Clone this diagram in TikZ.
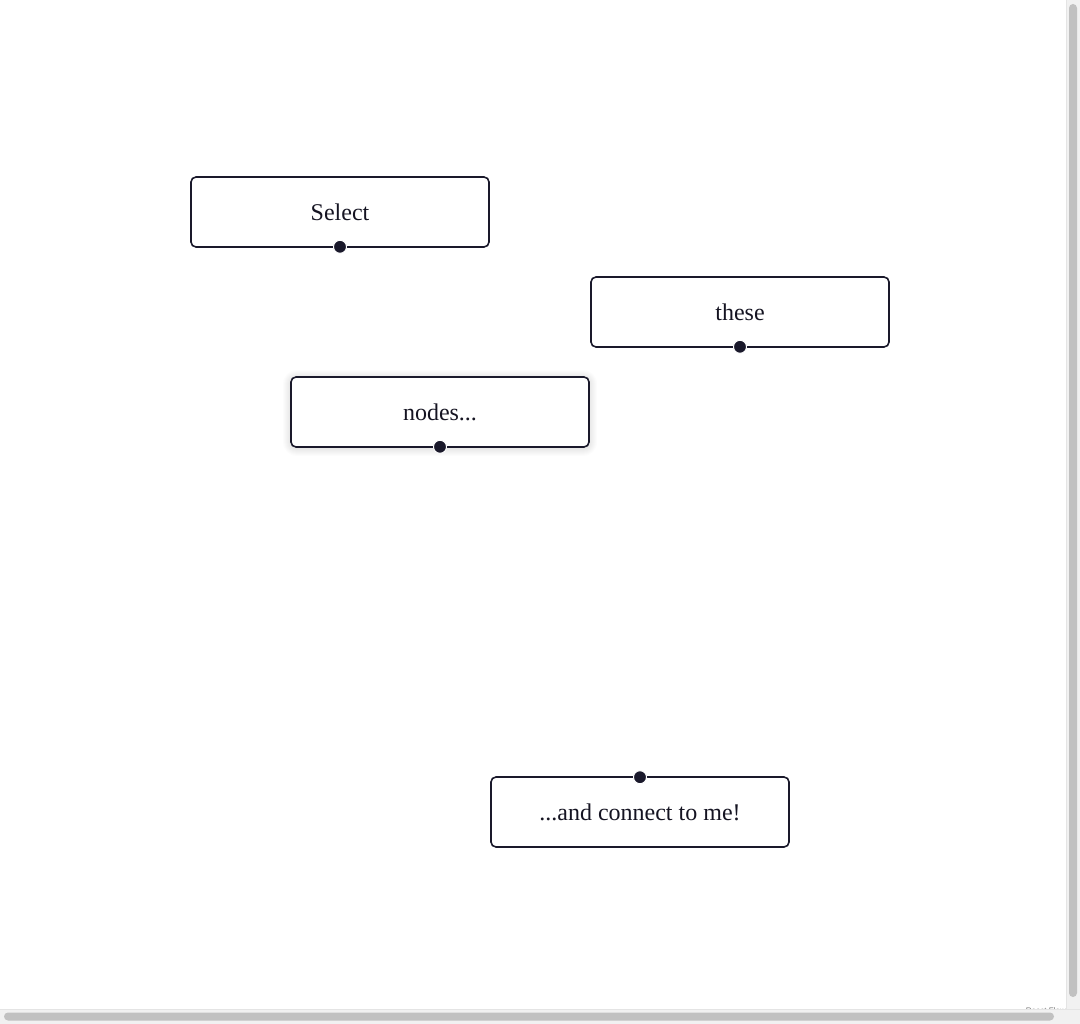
\documentclass[tikz,border=0pt]{standalone}
\usepackage{fontspec}
\setmainfont{Liberation Serif}
\newfontfamily\attrfont{Liberation Sans}
\definecolor{flowink}{HTML}{1A192B}
\definecolor{trackgray}{HTML}{F1F1F1}
\definecolor{trackedge}{HTML}{E4E4E4}
\definecolor{thumbgray}{HTML}{C1C1C1}
\tikzset{
  flownode/.style={draw=flowink, line width=1.6pt, rounded corners=5pt, fill=white,
    minimum width=298pt, minimum height=70pt, inner sep=0pt,
    font=\fontsize{24}{28}\selectfont, text=flowink!80!black},
  handle/.style={circle, fill=flowink, draw=white, line width=1pt,
    minimum size=13pt, inner sep=0pt},
}
\begin{document}
\begin{tikzpicture}[x=1pt, y=-1pt]
  \useasboundingbox[fill=white] (0,0) rectangle (1080,1024);

  % soft halo under the selected node
  \foreach \g in {1,...,8}
    \fill[flowink, opacity=0.012, rounded corners=6pt+\g pt]
      (291-\g,377-\g+1) rectangle (589+\g,447+\g+1);

  % flow nodes
  \node[flownode] (select) at (340,212) {Select};
  \node[flownode] (these) at (740,312) {these};
  \node[flownode] (nodes) at (440,412) {nodes...};
  \node[flownode] (target) at (640,812) {...and connect to me!};

  % source handles on the bottom edge, target handle on the top edge
  \node[handle, yshift=1pt] (selectout) at (select.south) {};
  \node[handle, yshift=1pt] (theseout) at (these.south) {};
  \node[handle, yshift=1pt] (nodesout) at (nodes.south) {};
  \node[handle, yshift=-1pt] (targetin) at (target.north) {};

  % attribution
  \node[anchor=south east, inner sep=0pt, font=\attrfont\fontsize{8}{9}\selectfont,
        text=black!55] (attr) at (1066,1014) {React Flow};

  % scrollbars
  \fill[trackgray] (1066,0) rectangle (1080,1009);
  \draw[trackedge, line width=0.8pt] (1066,0) -- (1066,1009);
  \fill[thumbgray, rounded corners=4pt] (1069,4) rectangle (1077,997);
  \fill[trackgray] (0,1009) rectangle (1080,1024);
  \draw[trackedge, line width=0.8pt] (0,1009) -- (1080,1009);
  \fill[thumbgray, rounded corners=4pt] (4,1012.5) rectangle (1054,1020.5);
\end{tikzpicture}
\end{document}
